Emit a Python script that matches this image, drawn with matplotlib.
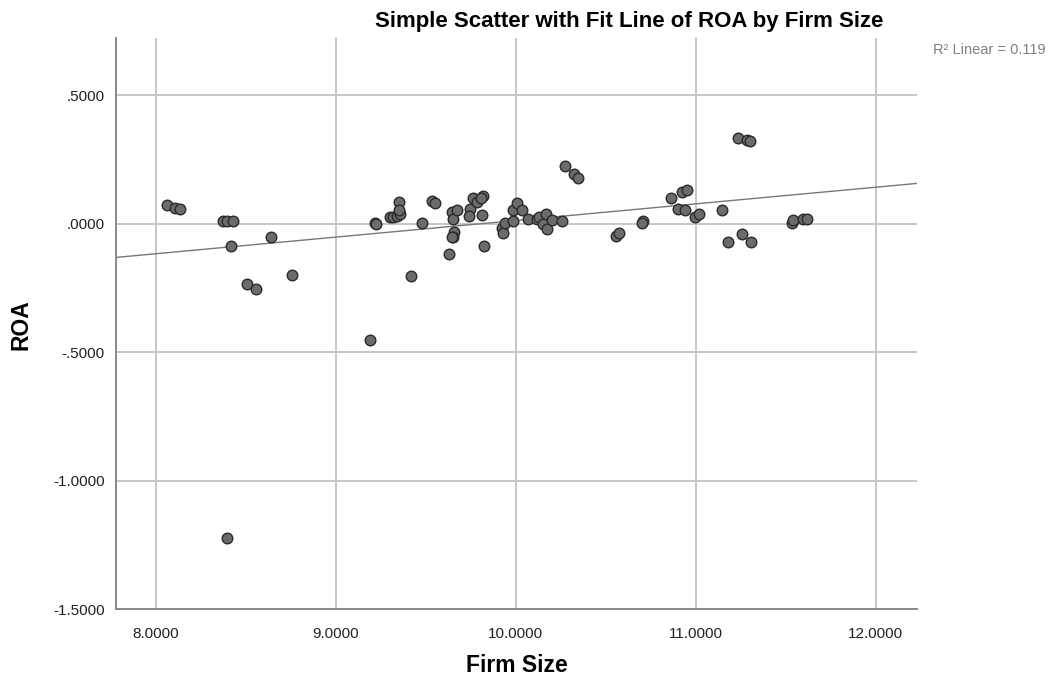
import numpy as np
import matplotlib
matplotlib.use("Agg")
import matplotlib.pyplot as plt
from matplotlib.ticker import FuncFormatter

plt.rcParams['font.family'] = ['Liberation Sans', 'DejaVu Sans']

# firm size (x) and ROA (y)
firm_size = [8.061, 8.106, 8.133, 8.372, 8.394, 8.428, 8.417, 8.639, 8.506, 8.556,
             8.756, 8.394, 9.189, 9.217, 9.222, 9.350, 9.300, 9.317, 9.339, 9.356,
             9.350, 9.478, 9.533, 9.550, 9.628, 9.417, 9.644, 9.650, 9.672, 9.656,
             9.650, 9.644, 9.744, 9.739, 9.761, 9.783, 9.817, 9.806, 9.811, 9.822,
             9.922, 9.928, 9.939, 9.983, 9.983, 10.006, 10.033, 10.067, 10.117, 10.128,
             10.167, 10.150, 10.172, 10.200, 10.256, 10.272, 10.322, 10.344, 11.233, 11.283,
             11.300, 10.861, 10.922, 10.950, 10.900, 10.939, 10.994, 11.017, 11.144, 10.706,
             10.700, 10.556, 10.572, 11.178, 11.256, 11.306, 11.533, 11.539, 11.594, 11.617]
roa = [0.074, 0.062, 0.058, 0.008, 0.008, 0.008, -0.086, -0.054, -0.237, -0.253,
       -0.202, -1.222, -0.455, 0.004, 0.000, 0.082, 0.027, 0.027, 0.031, 0.039,
       0.051, 0.004, 0.086, 0.078, -0.117, -0.206, 0.043, 0.016, 0.054, -0.031,
       -0.054, -0.054, 0.058, 0.031, 0.101, 0.082, 0.109, 0.101, 0.035, -0.089,
       -0.019, -0.035, 0.004, 0.008, 0.051, 0.078, 0.051, 0.016, 0.019, 0.027,
       0.039, 0.000, -0.023, 0.012, 0.008, 0.222, 0.191, 0.179, 0.331, 0.327,
       0.323, 0.101, 0.121, 0.132, 0.058, 0.054, 0.027, 0.039, 0.054, 0.008,
       0.004, -0.047, -0.035, -0.070, -0.039, -0.070, 0.004, 0.012, 0.019, 0.019]

# linear fit as reported on the chart (R2 = 0.119)
fit_intercept = 0.012   # ROA at firm size 10
fit_slope = 0.0647
r2_text = "R\u00b2 Linear = 0.119"

x_ticks = [8.0, 9.0, 10.0, 11.0, 12.0]
y_ticks = [0.5, 0.0, -0.5, -1.0, -1.5]

fig = plt.figure(figsize=(10.51, 6.81), dpi=100)
ax = fig.add_axes([0.1104, 0.1057, 0.762, 0.8385])

ax.set_xlim(7.778, 12.228)
ax.set_ylim(-1.5, 0.722)

ax.set_xticks(x_ticks)
ax.set_yticks(y_ticks)

def fmt(v, pos):
    s = "%.4f" % v
    if abs(v) < 1:
        s = s.replace("0.", ".", 1)
    return s

ax.xaxis.set_major_formatter(FuncFormatter(fmt))
ax.yaxis.set_major_formatter(FuncFormatter(fmt))
ax.tick_params(length=0, labelsize=11, colors='#222222')
ax.tick_params(axis='x', pad=13)
ax.tick_params(axis='y', pad=8)

ax.grid(True, color='#c6c6c6', linewidth=1.4)
ax.set_axisbelow(True)
for s in ['top', 'right']:
    ax.spines[s].set_visible(False)
for s in ['left', 'bottom']:
    ax.spines[s].set_color('#888888')
    ax.spines[s].set_linewidth(1.4)

# fit line
xx = np.array(ax.get_xlim())
ax.plot(xx, fit_intercept + fit_slope * (xx - 10.0), color='#777777',
        linewidth=1.0, zorder=2)

ax.scatter(firm_size, roa, s=58, color='#6b6b6b', edgecolor='#2a2a2a',
           linewidth=1.0, zorder=3)

fig.text(629 / 1051, 1 - 21 / 681, "Simple Scatter with Fit Line of ROA by Firm Size",
         fontsize=16, fontweight='bold', ha='center', va='center')
fig.text(517 / 1051, 1 - 665 / 681, "Firm Size", fontsize=16.5, fontweight='bold',
         ha='center', va='center')
fig.text(21 / 1051, 1 - 325 / 681, "ROA", fontsize=16.5, fontweight='bold',
         ha='center', va='center', rotation=90)

fig.text(0.995, 1 - 50 / 681, r2_text, ha='right', va='center',
         fontsize=10.5, color='#808080')

fig.savefig("out.png", dpi=100)
